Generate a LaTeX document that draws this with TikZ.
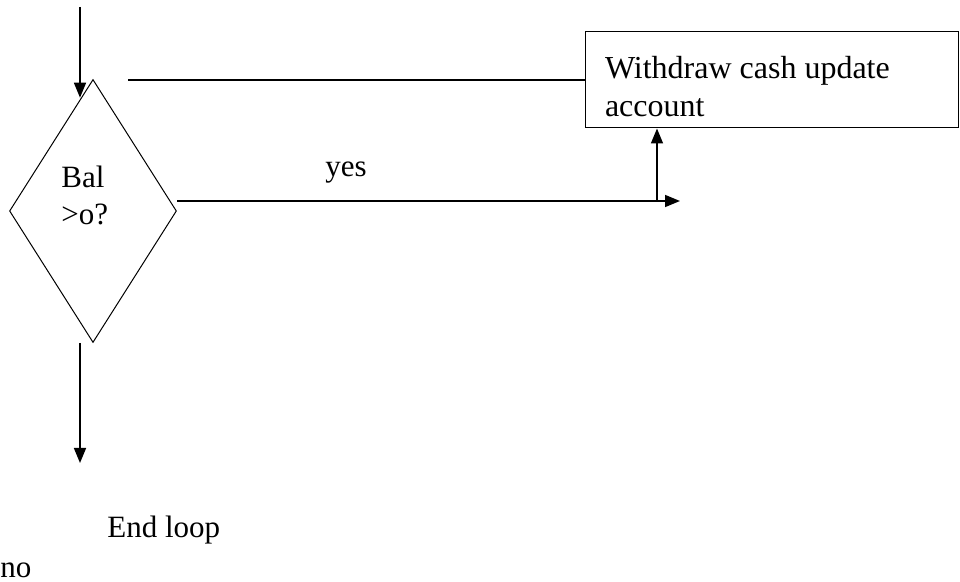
\documentclass[tikz,border=0pt]{standalone}
\usepackage{fontspec}
\setmainfont{Liberation Serif}
\usetikzlibrary{positioning}
\usetikzlibrary{shapes.geometric}
\usetikzlibrary{arrows.meta}

\begin{document}
\begin{tikzpicture}[x=0.5pt,y=-0.5pt,
        flow/.style={line width=0.8pt,-{Triangle[length=7.5pt,width=6pt]}},
        decision/.style={draw,line width=0.5pt,diamond,inner sep=0pt,minimum width=83.5pt,minimum height=131.5pt},
        procbox/.style={draw,line width=0.5pt,rectangle,minimum width=186.5pt,minimum height=48pt,text width=166.5pt,inner xsep=10pt,align=flush left},
        lbl/.style={inner sep=0pt,font=\fontsize{15.5}{18.5}\selectfont}]
        \useasboundingbox (0,0) rectangle (960,582);
        % nodes
        \node[decision] (dec) at (93,211) {};
        \node[lbl,align=flush left,anchor=base west] (decText) at (61,225) {Bal\\>o?};
        \node[procbox,font=\fontsize{16}{19}\selectfont,text height=11pt,text depth=12pt] (withdraw) at (771.5,80) {Withdraw cash update\\account};
        \coordinate (topin) at (80,7);
        \coordinate (loopback) at (128,80);
        \coordinate (yesend) at (680,201);
        \coordinate (upfoot) at (657,201);
        \coordinate (noend) at (80,463);
        % connectors
        \draw[flow] (topin) -- (topin |- dec.96.7);
        \draw[line width=0.65pt] (loopback) -- (withdraw.west);
        \draw[flow] (dec.east |- yesend) -- (yesend);
        \draw[flow] (upfoot) -- (upfoot |- withdraw.south);
        \draw[flow] (noend |- dec.south) -- (noend);
        % labels
        \node[lbl,anchor=base] (yes) at (346,177) {yes};
        \node[lbl,anchor=base west] (endloop) at (107,538) {End loop};
        \node[lbl,anchor=base west] (no) at (0,578) {no};
    \end{tikzpicture}
\end{document}
